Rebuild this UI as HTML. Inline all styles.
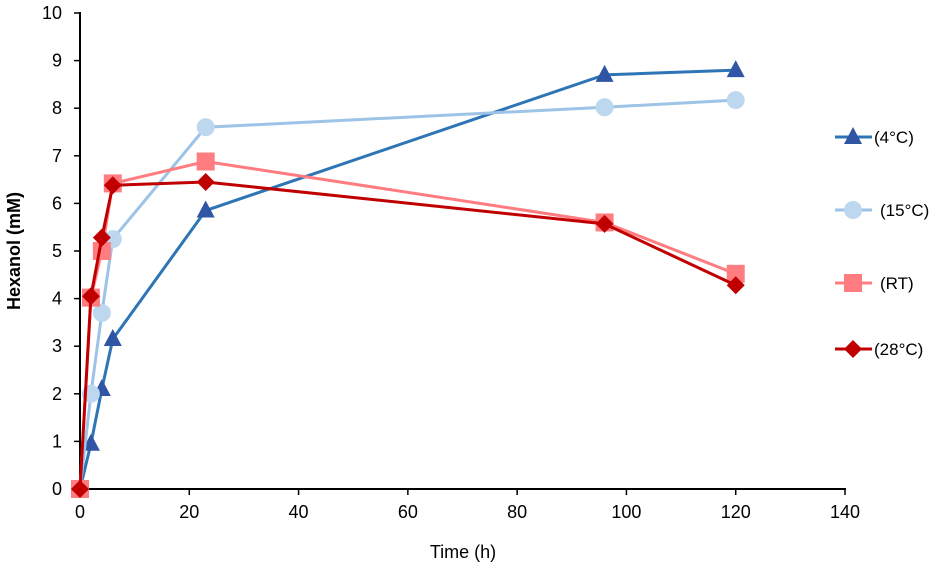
<!DOCTYPE html>
<html><head><meta charset="utf-8"><style>body{margin:0;background:#fff}svg{display:block;font-family:"Liberation Sans",sans-serif}</style></head>
<body>
<svg id="c" width="937" height="569"></svg>
<script>
const xTicks=[0,20,40,60,80,100,120,140];
const yTicks=[0,1,2,3,4,5,6,7,8,9,10];
const times=[0,2,4,6,23,96,120];
const s4=[0,0.95,2.1,3.15,5.85,8.7,8.8];
const s15=[0,2,3.7,5.25,7.6,8.02,8.17];
const sRT=[0,4.02,5,6.42,6.88,5.6,4.52];
const s28=[0,4.05,5.28,6.38,6.45,5.57,4.28];
const names=["(4°C)","(15°C)","(RT)","(28°C)"];
const NS="http://www.w3.org/2000/svg",svg=document.getElementById('c');
const X=v=>80+v*(845-80)/140, Y=v=>489-v*47.6;
function el(t,a,p){const e=document.createElementNS(NS,t);for(const k in a)e.setAttribute(k,a[k]);(p||svg).appendChild(e);return e;}
el('line',{x1:80,y1:489,x2:846,y2:489,stroke:'#000','stroke-width':2});
el('line',{x1:80,y1:489,x2:80,y2:12,stroke:'#000','stroke-width':2});
xTicks.forEach(v=>{el('line',{x1:X(v),x2:X(v),y1:489,y2:495,stroke:'#000','stroke-width':1.5});
const t=el('text',{x:X(v),y:518,'text-anchor':'middle','font-size':18});t.textContent=v;
});
yTicks.forEach(v=>{el('line',{x1:74,x2:80,y1:Y(v),y2:Y(v),stroke:'#000','stroke-width':1.5});
const t=el('text',{x:62,y:Y(v)+6,'text-anchor':'end','font-size':18});t.textContent=v;
});
let t=el('text',{x:463,y:558,'text-anchor':'middle','font-size':18});t.textContent='Time (h)';

t=el('text',{x:0,y:0,'text-anchor':'middle','font-size':18,'font-weight':'bold',transform:'translate(20,251) rotate(-90)'});t.textContent='Hexanol (mM)';

function marker(shape,x,y,col,g){
 if(shape==='tri')el('polygon',{points:`${x},${y-10} ${x+9},${y+7} ${x-9},${y+7}`,fill:col},g);
 else if(shape==='circ')el('circle',{cx:x,cy:y,r:9,fill:col},g);
 else if(shape==='sq')el('rect',{x:x-9,y:y-9,width:18,height:18,fill:col},g);
 else el('polygon',{points:`${x},${y-9} ${x+9},${y} ${x},${y+9} ${x-9},${y}`,fill:col},g);}
const series=[[s4,'#2e75b6','#2f55a4','tri'],[s15,'#9dc3e6','#bdd7ee','circ'],[sRT,'#ff7c80','#ff7c80','sq'],[s28,'#c00000','#c00000','dia']];
const legY=[137,210,283,349];
series.forEach((s,i)=>{const g=el('g',{});

el('polyline',{points:s[0].map((v,j)=>X(times[j])+','+Y(v)).join(' '),fill:'none',stroke:s[1],'stroke-width':3},g);
s[0].forEach((v,j)=>marker(s[3],X(times[j]),Y(v),s[2],g));
const lg=el('g',{});
el('line',{x1:835,x2:872,y1:legY[i],y2:legY[i],stroke:s[1],'stroke-width':3},lg);
marker(s[3],853,legY[i],s[2],lg);
const tx=el('text',{x:i===0||i===3?874:880,y:legY[i]+6,'font-size':17},lg);tx.textContent=names[i];});
</script>
</body></html>
